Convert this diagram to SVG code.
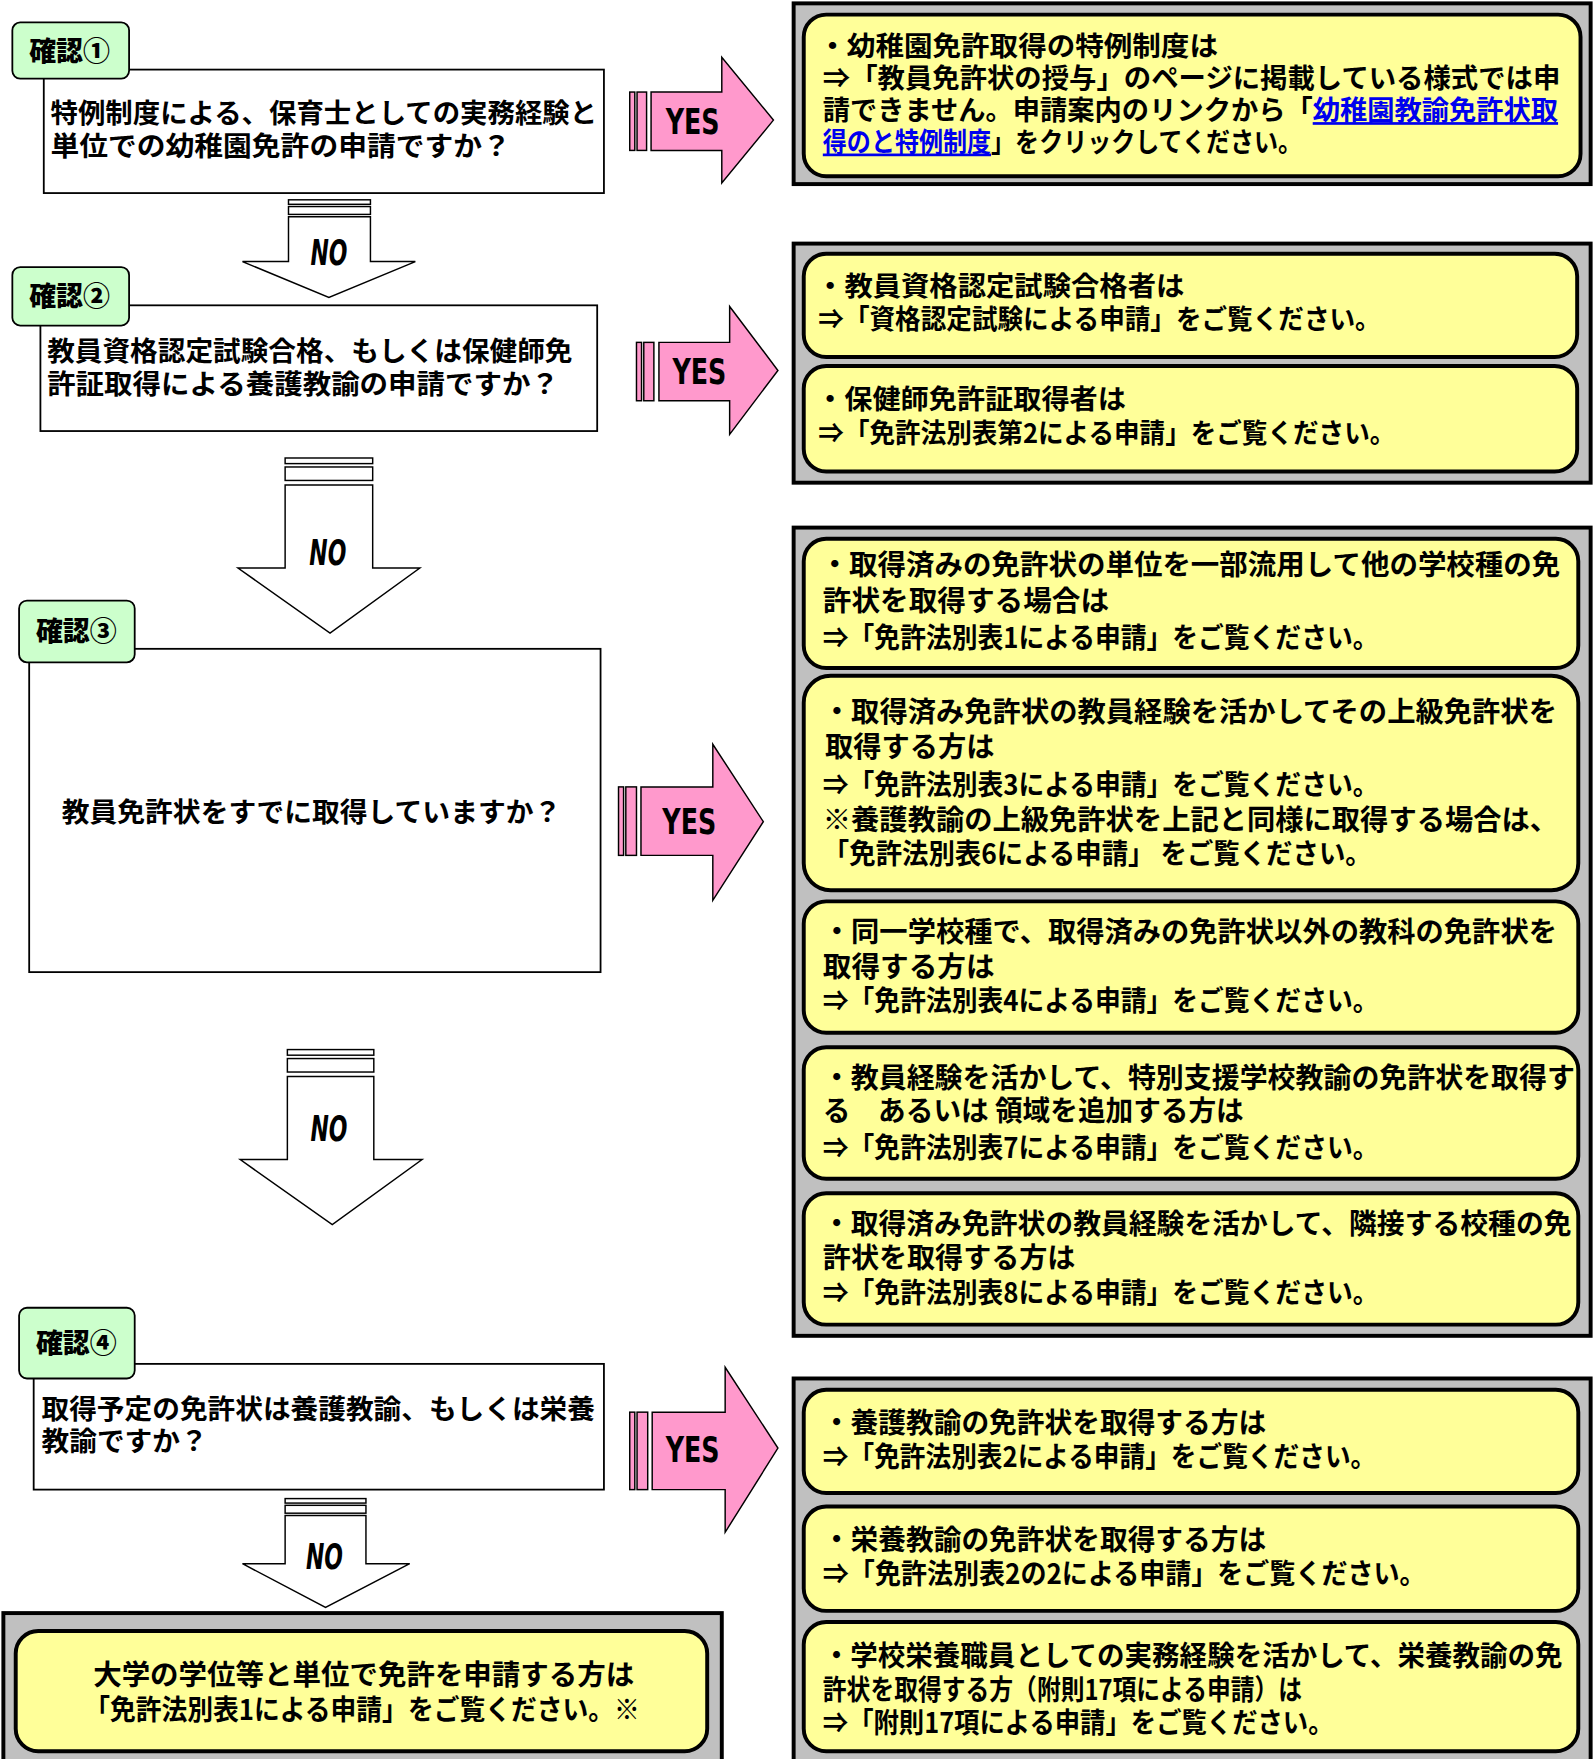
<svg xmlns="http://www.w3.org/2000/svg" width="1594" height="1759" viewBox="0 0 1594 1759">
<style>
.lbl{fill:#ccffcc;stroke:#000;stroke-width:1.6}
.q{fill:#fff;stroke:#000;stroke-width:1.6}
.gray{fill:#c0c0c0;stroke:#000;stroke-width:3.5}
.yel{fill:#ffff99;stroke:#000;stroke-width:3.5}
.yes{fill:#ff99cc;stroke:#000;stroke-width:1.3}
.no{fill:#fff;stroke:#000;stroke-width:1.3}
text{font-family:"Noto Sans CJK JP","Noto Sans CJK SC",sans-serif;font-weight:bold;fill:#000}
.t24{font-size:24px}
.t25{font-size:25px}
.lt{font-size:24px;font-weight:900}
.big{font-family:"DejaVu Sans Condensed","DejaVu Sans",sans-serif;font-weight:bold;font-size:31px}
.link{fill:#0000ee;text-decoration:underline}
</style>
<rect x="0" y="0" width="1594" height="1759" fill="#fff"/>
<g transform="scale(1.12254)">
<g id="connectors">
<g id="yes1">
<rect class="yes" x="561" y="82" width="4.5" height="52"/>
<rect class="yes" x="567.5" y="82" width="8.5" height="52"/>
<polygon class="yes" points="580,82 643,82 643,51 689,107 643,163 643,134 580,134"/>
<text class="big" x="617" y="119" text-anchor="middle" textLength="48" lengthAdjust="spacingAndGlyphs">YES</text>
</g>
<g id="yes2">
<rect class="yes" x="567" y="305" width="4.5" height="52"/>
<rect class="yes" x="573.5" y="305" width="9" height="52"/>
<polygon class="yes" points="587,305 650,305 650,273 693,330 650,387 650,357 587,357"/>
<text class="big" x="623" y="342" text-anchor="middle" textLength="48" lengthAdjust="spacingAndGlyphs">YES</text>
</g>
<g id="yes3">
<rect class="yes" x="551" y="701" width="4.5" height="61"/>
<rect class="yes" x="557.5" y="701" width="9.5" height="61"/>
<polygon class="yes" points="571,701 635,701 635,663 680,732 635,802 635,762 571,762"/>
<text class="big" x="614" y="743" text-anchor="middle" textLength="48" lengthAdjust="spacingAndGlyphs">YES</text>
</g>
<g id="yes4">
<rect class="yes" x="561" y="1258" width="4.5" height="69"/>
<rect class="yes" x="567.5" y="1258" width="9.5" height="69"/>
<polygon class="yes" points="581,1258 646,1258 646,1218 693,1290 646,1365 646,1327 581,1327"/>
<text class="big" x="617" y="1302" text-anchor="middle" textLength="48" lengthAdjust="spacingAndGlyphs">YES</text>
</g>
<g id="no1">
<rect class="no" x="257" y="178" width="73" height="4"/>
<rect class="no" x="257" y="184" width="73" height="7"/>
<polygon class="no" points="257,193 330,193 330,233 370,233 293,265 216,233 257,233"/>
<text class="big" x="293" y="236" text-anchor="middle" font-style="oblique" textLength="33" lengthAdjust="spacingAndGlyphs">NO</text>
</g>
<g id="no2">
<rect class="no" x="254" y="408" width="78" height="5"/>
<rect class="no" x="254" y="416" width="78" height="12"/>
<polygon class="no" points="254,432 332,432 332,506 374,506 294,564 212,506 254,506"/>
<text class="big" x="292" y="503" text-anchor="middle" font-style="oblique" textLength="33" lengthAdjust="spacingAndGlyphs">NO</text>
</g>
<g id="no3">
<rect class="no" x="256" y="935" width="77" height="5"/>
<rect class="no" x="256" y="943" width="77" height="12"/>
<polygon class="no" points="256,959 333,959 333,1033 376,1033 296,1091 214,1033 256,1033"/>
<text class="big" x="293" y="1016" text-anchor="middle" font-style="oblique" textLength="33" lengthAdjust="spacingAndGlyphs">NO</text>
</g>
<g id="no4">
<rect class="no" x="254" y="1335" width="72" height="4"/>
<rect class="no" x="254" y="1341" width="72" height="7"/>
<polygon class="no" points="254,1350 326,1350 326,1393 365,1393 290,1432 216,1393 254,1393"/>
<text class="big" x="289" y="1398" text-anchor="middle" font-style="oblique" textLength="33" lengthAdjust="spacingAndGlyphs">NO</text>
</g>
</g>

<g id="q1">
<rect class="q" x="39" y="62" width="499" height="110"/>
<text class="t24"><tspan x="45" y="110" textLength="487" lengthAdjust="spacingAndGlyphs">特例制度による、保育士としての実務経験と</tspan><tspan x="45" y="139" textLength="410" lengthAdjust="spacingAndGlyphs">単位での幼稚園免許の申請ですか？</tspan></text>
</g>
<g id="label1">
<rect class="lbl" x="11" y="20" width="104" height="50" rx="7"/>
<text class="lt" x="62" y="54" text-anchor="middle">確認①</text>
</g>

<g id="q2">
<rect class="q" x="36" y="272" width="496" height="112"/>
<text class="t24"><tspan x="42" y="322" textLength="468" lengthAdjust="spacingAndGlyphs">教員資格認定試験合格、もしくは保健師免</tspan><tspan x="42" y="351" textLength="456" lengthAdjust="spacingAndGlyphs">許証取得による養護教諭の申請ですか？</tspan></text>
</g>
<g id="label2">
<rect class="lbl" x="11" y="238" width="104" height="52" rx="7"/>
<text class="lt" x="62" y="273" text-anchor="middle">確認②</text>
</g>

<g id="q3">
<rect class="q" x="26" y="578" width="509" height="288"/>
<text class="t24" x="55" y="732" textLength="445" lengthAdjust="spacingAndGlyphs">教員免許状をすでに取得していますか？</text>
</g>
<g id="label3">
<rect class="lbl" x="17" y="535" width="103" height="55" rx="7"/>
<text class="lt" x="68" y="571" text-anchor="middle">確認③</text>
</g>

<g id="q4">
<rect class="q" x="30" y="1215" width="508" height="112"/>
<text class="t24"><tspan x="37" y="1264" textLength="493" lengthAdjust="spacingAndGlyphs">取得予定の免許状は養護教諭、もしくは栄養</tspan><tspan x="37" y="1293" textLength="148" lengthAdjust="spacingAndGlyphs">教諭ですか？</tspan></text>
</g>
<g id="label4">
<rect class="lbl" x="17" y="1165" width="103" height="63" rx="7"/>
<text class="lt" x="68" y="1205" text-anchor="middle">確認④</text>
</g>

<g id="r1">
<rect class="gray" x="707" y="3" width="710" height="161"/>
<rect class="yel" x="716" y="13" width="692" height="144" rx="20"/>
<text class="t24"><tspan x="729" y="50" textLength="356" lengthAdjust="spacingAndGlyphs">・幼稚園免許取得の特例制度は</tspan><tspan x="733" y="78" textLength="657" lengthAdjust="spacingAndGlyphs">⇒「教員免許状の授与」のページに掲載している様式では申</tspan><tspan x="733" y="107" textLength="655" lengthAdjust="spacingAndGlyphs">請できません。申請案内のリンクから「<tspan class="link">幼稚園教諭免許状取</tspan></tspan><tspan x="733" y="135" textLength="427" lengthAdjust="spacingAndGlyphs"><tspan class="link">得のと特例制度</tspan>」をクリックしてください。</tspan></text>
</g>

<g id="r2">
<rect class="gray" x="707" y="217" width="710" height="213"/>
<rect class="yel" x="716" y="226" width="689" height="92" rx="20"/>
<text class="t24"><tspan x="727" y="264" textLength="328" lengthAdjust="spacingAndGlyphs">・教員資格認定試験合格者は</tspan><tspan x="729" y="293" textLength="501" lengthAdjust="spacingAndGlyphs">⇒「資格認定試験による申請」をご覧ください。</tspan></text>
<rect class="yel" x="716" y="326" width="689" height="94" rx="20"/>
<text class="t24"><tspan x="727" y="364" textLength="276" lengthAdjust="spacingAndGlyphs">・保健師免許証取得者は</tspan><tspan x="729" y="395" textLength="514" lengthAdjust="spacingAndGlyphs">⇒「免許法別表第2による申請」をご覧ください。</tspan></text>
</g>

<g id="r3">
<rect class="gray" x="707" y="470" width="710" height="720"/>
<rect class="yel" x="716" y="480" width="690" height="115" rx="20"/>
<text class="t25"><tspan x="731" y="512" textLength="659" lengthAdjust="spacingAndGlyphs">・取得済みの免許状の単位を一部流用して他の学校種の免</tspan><tspan x="733" y="544" textLength="255" lengthAdjust="spacingAndGlyphs">許状を取得する場合は</tspan><tspan x="733" y="577" textLength="495" lengthAdjust="spacingAndGlyphs">⇒「免許法別表1による申請」をご覧ください。</tspan></text>
<rect class="yel" x="716" y="602" width="690" height="191" rx="24"/>
<text class="t25"><tspan x="733" y="643" textLength="654" lengthAdjust="spacingAndGlyphs">・取得済み免許状の教員経験を活かしてその上級免許状を</tspan><tspan x="735" y="674" textLength="151" lengthAdjust="spacingAndGlyphs">取得する方は</tspan><tspan x="733" y="708" textLength="495" lengthAdjust="spacingAndGlyphs">⇒「免許法別表3による申請」をご覧ください。</tspan><tspan x="733" y="739" textLength="655" lengthAdjust="spacingAndGlyphs">※養護教諭の上級免許状を上記と同様に取得する場合は、</tspan><tspan x="733" y="770" textLength="489" lengthAdjust="spacingAndGlyphs">「免許法別表6による申請」 をご覧ください。</tspan></text>
<rect class="yel" x="716" y="803" width="690" height="117" rx="20"/>
<text class="t25"><tspan x="733" y="839" textLength="654" lengthAdjust="spacingAndGlyphs">・同一学校種で、取得済みの免許状以外の教科の免許状を</tspan><tspan x="733" y="870" textLength="153" lengthAdjust="spacingAndGlyphs">取得する方は</tspan><tspan x="733" y="901" textLength="495" lengthAdjust="spacingAndGlyphs">⇒「免許法別表4による申請」をご覧ください。</tspan></text>
<rect class="yel" x="716" y="933" width="690" height="117" rx="20"/>
<text class="t25"><tspan x="733" y="969" textLength="670" lengthAdjust="spacingAndGlyphs">・教員経験を活かして、特別支援学校教諭の免許状を取得す</tspan><tspan x="733" y="999" textLength="375" lengthAdjust="spacingAndGlyphs">る　あるいは 領域を追加する方は</tspan><tspan x="733" y="1032" textLength="495" lengthAdjust="spacingAndGlyphs">⇒「免許法別表7による申請」をご覧ください。</tspan></text>
<rect class="yel" x="716" y="1063" width="690" height="117" rx="20"/>
<text class="t25"><tspan x="733" y="1099" textLength="667" lengthAdjust="spacingAndGlyphs">・取得済み免許状の教員経験を活かして、隣接する校種の免</tspan><tspan x="733" y="1130" textLength="225" lengthAdjust="spacingAndGlyphs">許状を取得する方は</tspan><tspan x="733" y="1161" textLength="495" lengthAdjust="spacingAndGlyphs">⇒「免許法別表8による申請」をご覧ください。</tspan></text>
</g>

<g id="r4">
<rect class="gray" x="707" y="1228" width="710" height="345"/>
<rect class="yel" x="716" y="1238" width="690" height="92" rx="20"/>
<text class="t25"><tspan x="733" y="1277" textLength="395" lengthAdjust="spacingAndGlyphs">・養護教諭の免許状を取得する方は</tspan><tspan x="733" y="1307" textLength="493" lengthAdjust="spacingAndGlyphs">⇒「免許法別表2による申請」をご覧ください。</tspan></text>
<rect class="yel" x="716" y="1342" width="690" height="93" rx="20"/>
<text class="t25"><tspan x="733" y="1381" textLength="395" lengthAdjust="spacingAndGlyphs">・栄養教諭の免許状を取得する方は</tspan><tspan x="733" y="1411" textLength="537" lengthAdjust="spacingAndGlyphs">⇒「免許法別表2の2による申請」をご覧ください。</tspan></text>
<rect class="yel" x="716" y="1445" width="690" height="115" rx="20"/>
<text class="t25"><tspan x="733" y="1484" textLength="659" lengthAdjust="spacingAndGlyphs">・学校栄養職員としての実務経験を活かして、栄養教諭の免</tspan><tspan x="733" y="1514" textLength="427" lengthAdjust="spacingAndGlyphs">許状を取得する方（附則17項による申請）は</tspan><tspan x="733" y="1544" textLength="455" lengthAdjust="spacingAndGlyphs">⇒「附則17項による申請」をご覧ください。</tspan></text>
</g>

<g id="final">
<rect class="gray" x="3" y="1437" width="640" height="136"/>
<rect class="yel" x="14" y="1453" width="616" height="107" rx="20"/>
<text class="t25"><tspan x="83" y="1501" textLength="482" lengthAdjust="spacingAndGlyphs">大学の学位等と単位で免許を申請する方は</tspan><tspan x="75" y="1532" textLength="495" lengthAdjust="spacingAndGlyphs">「免許法別表1による申請」をご覧ください。※</tspan></text>
</g>
</g>
</svg>
